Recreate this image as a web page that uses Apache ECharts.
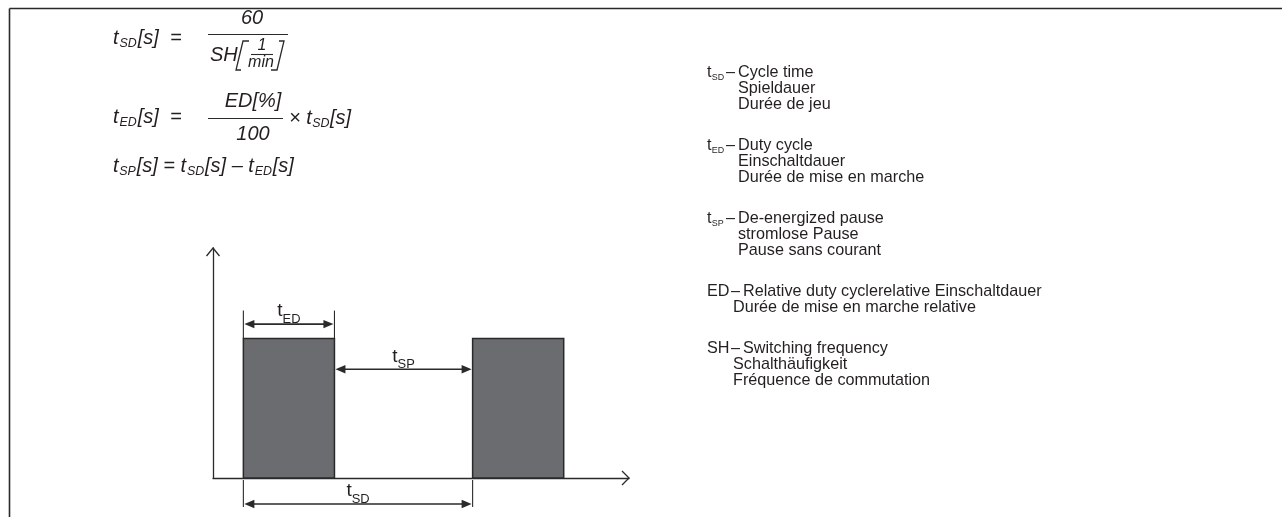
<!DOCTYPE html>
<html><head><meta charset="utf-8">
<script src="https://cdn.jsdelivr.net/npm/echarts@6/dist/echarts.min.js"></script>
<style>html,body{margin:0;padding:0;background:#fff}#c{width:1282px;height:517px}</style>
</head><body><div id="c"></div>
<script>
// ---------- data ----------
const pulseStart = [1.0, 8.55];
const pulseEnd = [4.0, 11.55];
const pulseLevel = [1, 1];
const axisMaxX = 13.7;
const axisMaxY = 1.65;
const dimSubs = ['ED', 'SP', 'SD'];
const legendTerms = [['t', 'SD'], ['t', 'ED'], ['t', 'SP'], ['ED', ''], ['SH', '']];
const legendLines = [
  ['Cycle time', 'Spieldauer', 'Durée de jeu'],
  ['Duty cycle', 'Einschaltdauer', 'Durée de mise en marche'],
  ['De-energized pause', 'stromlose Pause', 'Pause sans courant'],
  ['Relative duty cyclerelative Einschaltdauer', 'Durée de mise en marche relative'],
  ['Switching frequency', 'Schalthäufigkeit', 'Fréquence de commutation']
];
// ---------- helpers ----------
const FONT = 'Liberation Sans';
const INK = '#231f20';
const LINE = '#2a2a2a';
const mctx = document.createElement('canvas').getContext('2d');
function tw(text, size, italic) {
  mctx.font = (italic ? 'italic ' : '') + size + 'px "' + FONT + '"';
  return mctx.measureText(text).width;
}
function txt(x, y, text, size, italic, align) {
  return { type: 'text', x: x, y: y, silent: true,
    style: { text: text, fontSize: size, fontFamily: FONT, fontStyle: italic ? 'italic' : 'normal',
      fill: INK, align: align || 'left', verticalAlign: 'middle' } };
}
// sequence of [text, isSub]
function seq(x, y, parts, size, italic, subScale, subShift, gap) {
  const out = [];
  let cx = x;
  const ss = size * (subScale || 0.66);
  parts.forEach(function (p) {
    if (p[1]) {
      out.push(txt(cx, y + size * (subShift || 0.32), p[0], ss, italic));
      cx += tw(p[0], ss, italic) + (gap || 0);
    } else {
      out.push(txt(cx, y, p[0], size, italic));
      cx += tw(p[0], size, italic) + (gap || 0);
    }
  });
  return { els: out, end: cx };
}
function seqWidth(parts, size, italic, subScale) {
  const ss = size * (subScale || 0.66);
  return parts.reduce(function (a, p) { return a + tw(p[0], p[1] ? ss : size, italic); }, 0);
}
function line(x1, y1, x2, y2, w) {
  return { type: 'line', silent: true, shape: { x1: x1, y1: y1, x2: x2, y2: y2 },
    style: { stroke: LINE, lineWidth: w || 1.3 } };
}
function poly(points, w) {
  return { type: 'polyline', silent: true, shape: { points: points },
    style: { stroke: LINE, lineWidth: w || 1.3, fill: null } };
}
// ---------- graphic: border, formulas, legend ----------
const g = [];
g.push(line(9.5, 8.5, 1282, 8.5, 1.6));
g.push(line(9.5, 8.5, 9.5, 517, 1.6));

const FS = 20;
// formula 1
g.push.apply(g, seq(113, 38, [['t', 0], ['SD', 1], ['[s]  =', 0]], FS, true, 0.62, 0.3, 1).els);
g.push(txt(252, 18, '60', FS, true, 'center'));
g.push(line(208, 34.5, 288, 34.5, 1.2));
g.push(txt(210, 55, 'SH', FS, true));
g.push(poly([[249, 41], [243, 41], [236, 70], [241, 70]], 1.3));
g.push(txt(262, 46, '1', 16, true, 'center'));
g.push(line(251, 54.5, 273, 54.5, 1.1));
g.push(txt(261, 63, 'min', 16, true, 'center'));
g.push(poly([[279, 41], [284, 41], [277, 70], [271, 70]], 1.3));
// formula 2
g.push.apply(g, seq(113, 117, [['t', 0], ['ED', 1], ['[s]  =', 0]], FS, true, 0.62, 0.3, 1).els);
g.push(txt(253, 101, 'ED[%]', FS, true, 'center'));
g.push(line(208, 118.5, 283, 118.5, 1.2));
g.push(txt(253, 134, '100', FS, true, 'center'));
g.push.apply(g, seq(289, 118, [['× t', 0], ['SD', 1], ['[s]', 0]], FS, true, 0.62, 0.3, 0.5).els);
// formula 3
g.push.apply(g, seq(113, 166, [['t', 0], ['SP', 1], ['[s] = t', 0], ['SD', 1], ['[s] – t', 0], ['ED', 1], ['[s]', 0]], FS, true, 0.62, 0.3, 0.8).els);

// legend
const LFS = 16.2, LH = 16;
let ly = 73;
legendTerms.forEach(function (term, i) {
  const parts = [[term[0], 0]];
  if (term[1]) parts.push([term[1], 1]);
  const r = seq(707, ly, parts, LFS, false, 0.55, 0.3, 0.3);
  g.push.apply(g, r.els);
  const dashX = term[1] ? 726 : 731;
  g.push(txt(dashX, ly, '–', LFS, false));
  const descX = term[1] ? 738 : 743;
  legendLines[i].forEach(function (s, j) {
    g.push(txt(j === 0 ? descX : (term[1] ? 738 : 733), ly + j * LH, s, LFS, false));
  });
  ly += legendLines[i].length * LH + 25;
});

// ---------- series ----------
function arrowHead(x, y, dir) {
  const L = 10, H = 4.2;
  return { type: 'polygon', silent: true,
    shape: { points: [[x, y], [x - dir * L, y - H], [x - dir * L, y + H]] },
    style: { fill: LINE } };
}
function dimLabel(cx, yArrow, sub) {
  const parts = [['t', 0], [sub, 1]];
  const w = seqWidth(parts, 19, false, 0.68);
  return seq(cx - w / 2, yArrow - 13, parts, 19, false, 0.68, 0.45).els;
}
const dimData = [
  [pulseStart[0], pulseEnd[0], 0],
  [pulseEnd[0], pulseStart[1], 1],
  [pulseStart[0], pulseStart[1], 2]
];

const option = {
  animation: false,
  backgroundColor: '#fff',
  grid: { left: 213, right: 653, top: 248, bottom: 39 },
  xAxis: { type: 'value', min: 0, max: axisMaxX,
    axisLine: { show: true, onZero: false, lineStyle: { color: LINE, width: 1.3 } },
    axisTick: { show: false }, axisLabel: { show: false }, splitLine: { show: false } },
  yAxis: { type: 'value', min: 0, max: axisMaxY,
    axisLine: { show: true, onZero: false, lineStyle: { color: LINE, width: 1.3 } },
    axisTick: { show: false }, axisLabel: { show: false }, splitLine: { show: false } },
  graphic: g,
  series: [
    { type: 'custom', name: 'pulses', clip: false,
      data: pulseStart.map(function (s, i) { return [s, pulseEnd[i], pulseLevel[i]]; }),
      renderItem: function (params, api) {
        const p0 = api.coord([api.value(0), 0]);
        const p1 = api.coord([api.value(1), api.value(2)]);
        return { type: 'rect',
          shape: { x: p0[0], y: p1[1], width: p1[0] - p0[0], height: p0[1] - p1[1] },
          style: { fill: '#6b6c70', stroke: LINE, lineWidth: 1.5 } };
      } },
    { type: 'custom', name: 'axisArrows', clip: false, data: [[axisMaxX, axisMaxY]],
      renderItem: function (params, api) {
        const xe = api.coord([api.value(0), 0]);
        const ye = api.coord([0, api.value(1)]);
        return { type: 'group', children: [
          poly([[xe[0] - 7, xe[1] - 7], [xe[0], xe[1]], [xe[0] - 7, xe[1] + 7]], 1.3),
          poly([[ye[0] - 6.5, ye[1] + 8], [ye[0], ye[1]], [ye[0] + 6.5, ye[1] + 8]], 1.3)
        ] };
      } },
    { type: 'custom', name: 'dimensions', clip: false, data: dimData,
      renderItem: function (params, api) {
        const k = api.value(2);
        const a = api.coord([api.value(0), 0]);
        const b = api.coord([api.value(1), 0]);
        const top = api.coord([0, pulseLevel[0]])[1];
        const base = a[1];
        let y;
        const ch = [];
        if (k === 0) {
          y = top - 14.5;
          ch.push(line(a[0], top - 28, a[0], top, 1.1));
          ch.push(line(b[0], top - 28, b[0], top, 1.1));
        } else if (k === 1) {
          y = top + 30.7;
        } else {
          y = base + 26;
          ch.push(line(a[0], base + 2, a[0], base + 29, 1.1));
          ch.push(line(b[0], base + 2, b[0], base + 29, 1.1));
        }
        const x1 = a[0] + 1, x2 = b[0] - 1;
        ch.push(line(x1 + 5, y, x2 - 5, y, 1.6));
        ch.push(arrowHead(x1, y, -1));
        ch.push(arrowHead(x2, y, 1));
        Array.prototype.push.apply(ch, dimLabel((a[0] + b[0]) / 2, y, dimSubs[k]));
        return { type: 'group', children: ch };
      } }
  ]
};
const chart = echarts.init(document.getElementById('c'), null, { renderer: 'canvas' });
chart.setOption(option);
</script></body></html>
